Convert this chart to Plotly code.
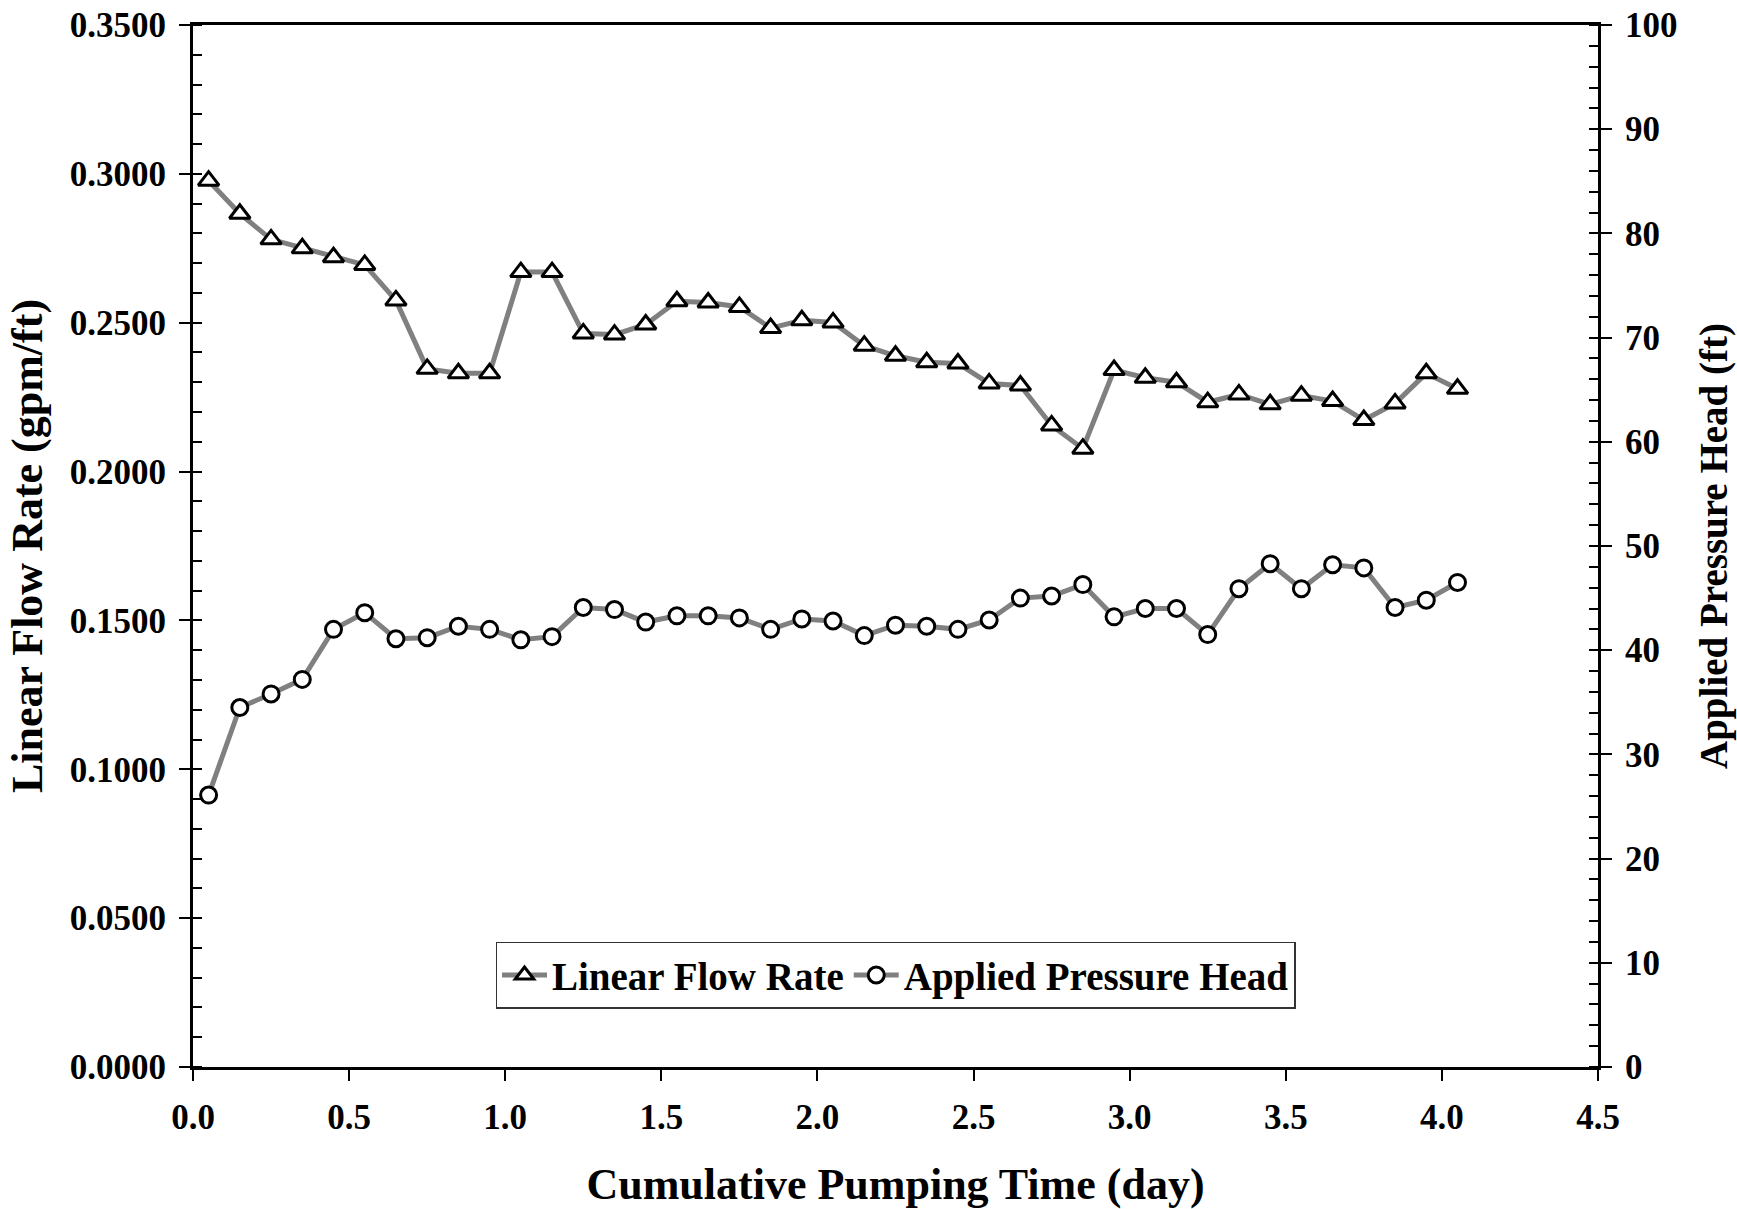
import plotly.graph_objects as go

time_day = [0.05, 0.15, 0.25, 0.35, 0.45, 0.55, 0.65, 0.75, 0.85, 0.95,
            1.05, 1.15, 1.25, 1.35, 1.45, 1.55, 1.65, 1.75, 1.85, 1.95,
            2.05, 2.15, 2.25, 2.35, 2.45, 2.55, 2.65, 2.75, 2.85, 2.95,
            3.05, 3.15, 3.25, 3.35, 3.45, 3.55, 3.65, 3.75, 3.85, 3.95, 4.05]

flow_rate = [0.2977, 0.2866, 0.2780, 0.2750, 0.2720, 0.2694, 0.2575, 0.2345, 0.2330, 0.2330,
             0.2670, 0.2670, 0.2464, 0.2460, 0.2494, 0.2572, 0.2568, 0.2553, 0.2482, 0.2508,
             0.2501, 0.2423, 0.2389, 0.2367, 0.2363, 0.2296, 0.2289, 0.2155, 0.2077, 0.2341,
             0.2315, 0.2300, 0.2233, 0.2259, 0.2226, 0.2255, 0.2237, 0.2173, 0.2229, 0.2330, 0.2278]

pressure_head = [26.1, 34.5, 35.8, 37.2, 42.0, 43.6, 41.1, 41.2, 42.3, 42.0,
                 41.0, 41.3, 44.1, 43.9, 42.7, 43.3, 43.3, 43.1, 42.0, 43.0,
                 42.8, 41.4, 42.4, 42.3, 42.0, 42.9, 45.0, 45.2, 46.3, 43.2,
                 44.0, 44.0, 41.5, 45.9, 48.3, 45.9, 48.2, 47.9, 44.1, 44.8, 46.5]

FONT = "Liberation Serif"
LINE_GRAY = "#808080"

fig = go.Figure()
fig.add_trace(go.Scatter(
    x=time_day, y=flow_rate, name="Linear Flow Rate", mode="lines+markers",
    line=dict(color=LINE_GRAY, width=5),
    marker=dict(symbol="triangle-up", size=18, color="white",
                line=dict(color="black", width=3)),
    yaxis="y"))
fig.add_trace(go.Scatter(
    x=time_day, y=pressure_head, name="Applied Pressure Head", mode="lines+markers",
    line=dict(color=LINE_GRAY, width=5),
    marker=dict(symbol="circle", size=16, color="white",
                line=dict(color="black", width=3)),
    yaxis="y2"))

tickfont = dict(family=FONT, size=35, color="black", weight="bold")

fig.update_layout(
    width=1737, height=1209,
    margin=dict(l=193, r=139, t=25, b=142, autoexpand=False),
    paper_bgcolor="white", plot_bgcolor="white",
    font=dict(family=FONT, color="black"),
    showlegend=True,
    legend=dict(
        x=0.5, y=0.056, xanchor="center", yanchor="bottom",
        orientation="h", bgcolor="white", bordercolor="#333333", borderwidth=1.5,
        font=dict(family=FONT, size=39, color="black", weight="bold"),
        itemwidth=45, tracegroupgap=0),
    xaxis=dict(
        range=[0, 4.5], dtick=0.5, tick0=0, tickformat=".1f", automargin=False,
        showgrid=False, zeroline=False,
        showline=True, linecolor="black", linewidth=3, mirror=True,
        ticks="outside", ticklen=11, tickwidth=1.5, tickcolor="black",
        tickfont=tickfont, ticklabelstandoff=6,
        title=dict(text="Cumulative Pumping Time (day)", standoff=38,
                   font=dict(family=FONT, size=44, color="black", weight="bold"))),
    yaxis=dict(
        range=[0, 0.35], dtick=0.05, tick0=0, tickformat=".4f", automargin=False,
        showgrid=False, zeroline=False,
        showline=True, linecolor="black", linewidth=3,
        ticks="outside", ticklen=11, tickwidth=1.5, tickcolor="black",
        minor=dict(dtick=0.01, ticks="inside", ticklen=9, tickwidth=1.5, tickcolor="black"),
        tickfont=tickfont, ticklabelstandoff=6,
        title=dict(text="Linear Flow Rate (gpm/ft)", standoff=14,
                   font=dict(family=FONT, size=44, color="black", weight="bold"))),
    yaxis2=dict(
        range=[0, 100], dtick=10, tick0=0, overlaying="y", side="right", anchor="x",
        automargin=False,
        showgrid=False, zeroline=False,
        showline=True, linecolor="black", linewidth=3,
        ticks="outside", ticklen=11, tickwidth=1.5, tickcolor="black",
        minor=dict(dtick=2, ticks="inside", ticklen=9, tickwidth=1.5, tickcolor="black"),
        tickfont=tickfont, ticklabelstandoff=6,
        title=dict(text="Applied Pressure Head (ft)", standoff=24,
                   font=dict(family=FONT, size=39, color="black", weight="bold"))),
    # overlay axes that draw the inner half of the crossing major ticks
    xaxis2=dict(range=[0, 4.5], dtick=0.5, tick0=0, overlaying="x", side="bottom", anchor="y",
                automargin=False,
                showgrid=False, zeroline=False, showline=False, showticklabels=False,
                ticks="inside", ticklen=9, tickwidth=1.5, tickcolor="black"),
    yaxis3=dict(range=[0, 0.35], dtick=0.05, tick0=0, overlaying="y", side="left", anchor="x",
                automargin=False,
                showgrid=False, zeroline=False, showline=False, showticklabels=False,
                ticks="inside", ticklen=9, tickwidth=1.5, tickcolor="black"),
    yaxis4=dict(range=[0, 100], dtick=10, tick0=0, overlaying="y", side="right", anchor="x",
                automargin=False,
                showgrid=False, zeroline=False, showline=False, showticklabels=False,
                ticks="inside", ticklen=9, tickwidth=1.5, tickcolor="black"),
)

fig.write_html("out.html")
